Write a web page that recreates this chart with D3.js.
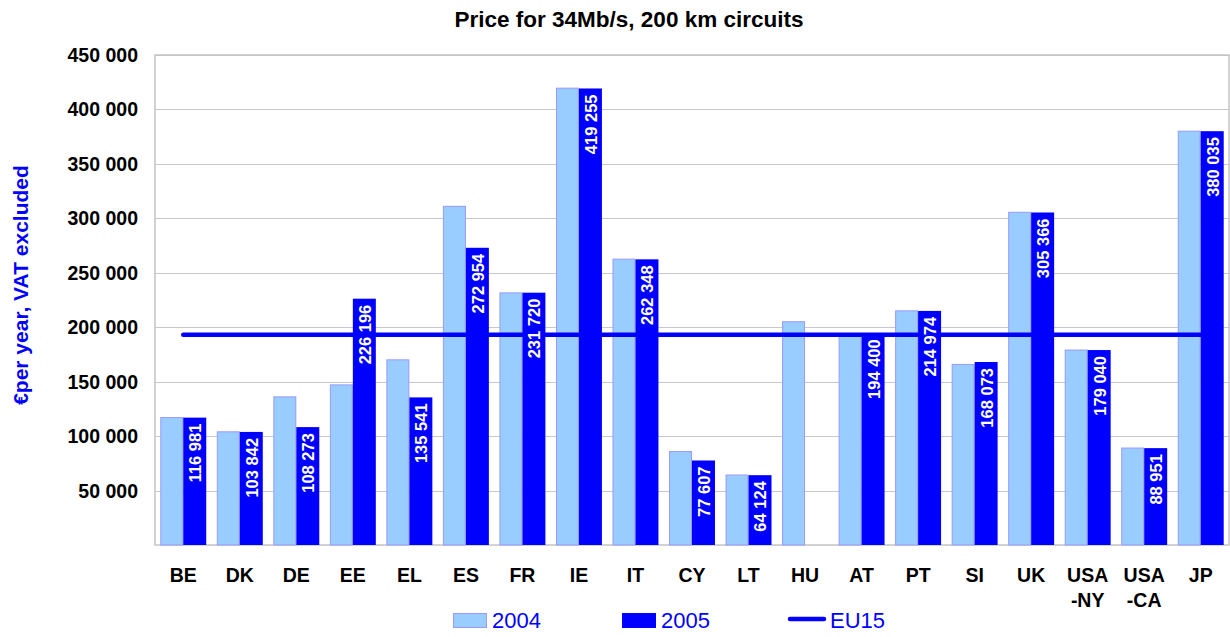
<!DOCTYPE html>
<html>
<head>
<meta charset="utf-8">
<script src="https://cdn.jsdelivr.net/npm/d3@7"></script>
<style>
  body { margin: 0; background: #fff; }
  text { font-family: "Liberation Sans", Arial, sans-serif; }
</style>
</head>
<body>
<div id="chart"></div>
<script>
// data
const categories = ["BE", "DK", "DE", "EE", "EL", "ES", "FR", "IE", "IT", "CY", "LT", "HU", "AT", "PT", "SI", "UK", "USA-NY", "USA-CA", "JP"];
const values2004 = [117500, 104400, 136500, 147500, 170500, 311500, 232000, 420000, 263000, 86300, 64700, 205500, 193500, 215500, 166300, 306000, 179500, 89500, 380500];
const values2005 = [116981, 103842, 108273, 226196, 135541, 272954, 231720, 419255, 262348, 77607, 64124, null, 194400, 214974, 168073, 305366, 179040, 88951, 380035];
const eu15 = 193000;
const yTicks = [50000, 100000, 150000, 200000, 250000, 300000, 350000, 400000, 450000];
const seriesNames = ["2004", "2005"];

const width = 1230, height = 637;
const margin = {top: 55, right: 1, bottom: 92, left: 155};

const svg = d3.select("#chart").append("svg")
  .attr("width", width)
  .attr("height", height);

const fmt = d3.formatLocale({decimal: ".", thousands: " ", grouping: [3], currency: ["", ""]}).format(",");

const x = d3.scaleBand()
  .domain(categories)
  .range([margin.left, width - margin.right]);

const x1 = d3.scaleBand()
  .domain(seriesNames)
  .range([0, x.bandwidth()])
  .paddingOuter(0.23);

const y = d3.scaleLinear()
  .domain([0, 450000])
  .range([height - margin.bottom, margin.top]);

const cx = d => x(d) + x.bandwidth() / 2;

// gridlines
svg.append("g")
  .selectAll("line")
  .data(yTicks)
  .enter()
  .append("line")
  .attr("x1", margin.left)
  .attr("x2", width - margin.right)
  .attr("y1", d => Math.round(y(d)) + 0.5)
  .attr("y2", d => Math.round(y(d)) + 0.5)
  .attr("stroke", "#c8c8c8")
  .attr("stroke-width", 1);

// plot border
svg.append("rect")
  .attr("x", margin.left)
  .attr("y", y(450000))
  .attr("width", width - margin.right - margin.left)
  .attr("height", y(0) - y(450000))
  .attr("fill", "none")
  .attr("stroke", "#c4c4c4")
  .attr("stroke-width", 1.5);

// y tick labels
svg.append("g")
  .selectAll("text")
  .data(yTicks)
  .enter()
  .append("text")
  .attr("x", margin.left - 17)
  .attr("y", d => y(d))
  .attr("dy", "0.36em")
  .attr("text-anchor", "end")
  .style("font-size", "19.5px")
  .style("font-weight", "bold")
  .text(d => fmt(d));

// 2004 bars
svg.append("g")
  .selectAll("rect")
  .data(categories)
  .enter()
  .append("rect")
  .attr("x", d => x(d) + x1("2004") + 0.5)
  .attr("y", (d, i) => y(values2004[i]) + 0.5)
  .attr("width", x1.bandwidth() - 1)
  .attr("height", (d, i) => y(0) - y(values2004[i]) - 0.5)
  .attr("fill", "#99ccff")
  .attr("stroke", "#9999ff")
  .attr("stroke-width", 1);

// EU15 average line, sits between the 2004 and 2005 bars
svg.append("line")
  .attr("x1", cx(categories[0]))
  .attr("x2", cx(categories[categories.length - 1]))
  .attr("y1", y(eu15))
  .attr("y2", y(eu15))
  .attr("stroke", "#0000ff")
  .attr("stroke-width", 4.5)
  .attr("stroke-linecap", "round");

const data2005 = categories
  .map((c, i) => ({cat: c, value: values2005[i]}))
  .filter(d => d.value != null);

// 2005 bars
svg.append("g")
  .selectAll("rect")
  .data(data2005)
  .enter()
  .append("rect")
  .attr("x", d => x(d.cat) + x1("2005"))
  .attr("y", d => y(d.value))
  .attr("width", x1.bandwidth())
  .attr("height", d => y(0) - y(d.value))
  .attr("fill", "#0000ff");

// 2005 value labels
svg.append("g")
  .selectAll("text")
  .data(data2005)
  .enter()
  .append("text")
  .attr("transform", d => `translate(${x(d.cat) + x1("2005") + x1.bandwidth() / 2 + 0.5},${y(d.value) + 6}) rotate(-90)`)
  .attr("dy", "0.36em")
  .attr("text-anchor", "end")
  .attr("fill", "#fff")
  .style("font-size", "16.5px")
  .style("font-weight", "bold")
  .text(d => fmt(d.value));

// category labels
const catText = svg.append("g")
  .selectAll("text")
  .data(categories)
  .enter()
  .append("text")
  .attr("x", cx)
  .attr("y", 582)
  .attr("text-anchor", "middle")
  .style("font-size", "19.5px")
  .style("font-weight", "bold");

catText.selectAll("tspan")
  .data(d => d.replace("-", "\n-").split("\n").map(t => ({t, x: cx(d)})))
  .enter()
  .append("tspan")
  .attr("x", d => d.x)
  .attr("dy", (d, i) => i === 0 ? 0 : 25)
  .text(d => d.t);

// title
svg.append("text")
  .attr("x", 629)
  .attr("y", 27)
  .attr("text-anchor", "middle")
  .style("font-size", "22.5px")
  .style("font-weight", "bold")
  .text("Price for 34Mb/s, 200 km circuits");

// y axis title
svg.append("text")
  .attr("transform", "translate(28,285) rotate(-90)")
  .attr("text-anchor", "middle")
  .attr("fill", "#0000ff")
  .style("font-size", "21px")
  .style("font-weight", "bold")
  .text("€per year, VAT excluded");

// legend
const legend = svg.append("g");
legend.append("rect")
  .attr("x", 453.5).attr("y", 613.5)
  .attr("width", 33).attr("height", 14)
  .attr("fill", "#99ccff")
  .attr("stroke", "#9999ff");
legend.append("text")
  .attr("x", 492).attr("y", 628)
  .attr("fill", "#0000ff")
  .style("font-size", "22px")
  .text(seriesNames[0]);

legend.append("rect")
  .attr("x", 622).attr("y", 613)
  .attr("width", 34).attr("height", 15)
  .attr("fill", "#0000ff");
legend.append("text")
  .attr("x", 661).attr("y", 628)
  .attr("fill", "#0000ff")
  .style("font-size", "22px")
  .text(seriesNames[1]);

legend.append("line")
  .attr("x1", 790).attr("x2", 824)
  .attr("y1", 619).attr("y2", 619)
  .attr("stroke", "#0000ff")
  .attr("stroke-width", 4.5)
  .attr("stroke-linecap", "round");
legend.append("text")
  .attr("x", 830).attr("y", 628)
  .attr("fill", "#0000ff")
  .style("font-size", "22px")
  .text("EU15");
</script>
</body>
</html>
